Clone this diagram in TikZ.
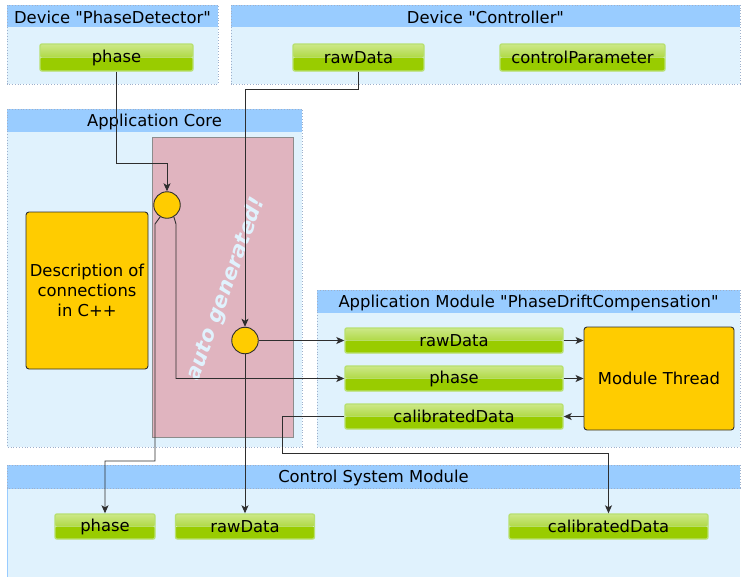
\documentclass[tikz,border=0pt]{standalone}
\usepackage{fontspec}
\setmainfont{DejaVu Sans}[Ligatures=TeXOff]
\usetikzlibrary{arrows.meta,calc}
\definecolor{hdrblue}{HTML}{99CCFF}
\definecolor{bodyblue}{HTML}{E0F2FD}
\definecolor{panelline}{HTML}{9DB0CC}
\definecolor{pinkbg}{HTML}{E0B4BF}
\definecolor{pinkline}{HTML}{8C8C8C}
\definecolor{amber}{HTML}{FFCC00}
\definecolor{greenlo}{HTML}{99CC00}
\definecolor{greenhi}{HTML}{CCE888}
\definecolor{greenmid}{HTML}{B0D946}
\definecolor{greenline}{HTML}{B8E070}
\definecolor{wire}{HTML}{2E2E2E}
\tikzset{
  x=1pt, y=-1pt,
  every node/.style={font=\fontsize{16.4}{20}\selectfont, inner sep=0pt},
  var/.style={minimum height=25pt, rounded corners=2pt, draw=greenline, line width=1.4pt,
    path picture={
      \fill[greenlo] (path picture bounding box.west) rectangle (path picture bounding box.south east);
      \shade[top color=greenhi, bottom color=greenmid]
        (path picture bounding box.north west) rectangle (path picture bounding box.east);
    }},
  proc/.style={fill=amber, draw=wire, line width=0.9pt, rounded corners=3pt, align=center},
  junction/.style={circle, fill=amber, draw=wire, line width=0.9pt, minimum size=26.5pt},
  wirestyle/.style={draw=wire, line width=0.9pt},
  conn/.style={wirestyle, -{Stealth[length=8pt,width=7pt,inset=2pt]}},
  panelbody/.style={fill=bodyblue, draw=panelline, dotted, line width=0.8pt},
}
% panel: #1 left, #2 top, #3 right, #4 header bottom, #5 bottom, #6 title, #7 name
\newcommand{\drawpanel}[7]{%
  \path[panelbody] (#1,#2) rectangle (#3,#5);
  \fill[hdrblue] (#1,#2) rectangle (#3,#4);
  \draw[panelline, dotted, line width=0.8pt] (#1,#2) rectangle (#3,#5);
  \node (#7) at ({(#1+#3)/2},{(#2+#4)/2+1}) {#6};
}
\begin{document}
\begin{tikzpicture}
\useasboundingbox (0,0) rectangle (741,576);

% panels
\drawpanel{7}{5}{218}{27}{84}{Device "PhaseDetector"}{pdtitle}
\drawpanel{231}{5}{740}{27}{84}{Device "Controller"}{cttitle}
\drawpanel{7}{109}{302}{132}{447}{Application Core}{actitle}
\drawpanel{317}{290}{740}{313}{447}{Application Module "PhaseDriftCompensation"}{amtitle}
\drawpanel{7}{465}{740}{580}{488}{}{cspanel}
\fill[bodyblue] (7.5,489) rectangle (739.5,577);
\node (cstitle) at (373.5,477.5) {Control System Module};

% generated glue area
\node[fill=pinkbg, draw=pinkline, line width=0.8pt, minimum width=141pt, minimum height=300pt]
  (gen) at (222.5,287) {};
\node[rotate=70, text=bodyblue, font=\fontsize{21}{24}\selectfont\bfseries\itshape]
  (genlabel) at (226,289) {auto generated!};

% process variables
\node[var, minimum width=153pt, minimum height=27pt] (pdphase) at (116.5,57.5) {phase};
\node[var, minimum width=131pt, minimum height=27pt] (ctraw) at (358.5,57.5) {rawData};
\node[var, minimum width=165pt, minimum height=27pt] (ctctrl) at (582.5,57.5) {controlParameter};

\node[var, minimum width=218pt] (amraw) at (454,340.5) {rawData};
\node[var, minimum width=218pt] (amphase) at (454,378.5) {phase};
\node[var, minimum width=218pt] (amcal) at (454,416.5) {calibratedData};

\node[var, minimum width=100pt] (csphase) at (105,526.5) {phase};
\node[var, minimum width=139pt] (csraw) at (245,526.5) {rawData};
\node[var, minimum width=199pt] (cscal) at (608.5,526.5) {calibratedData};

% processing blocks
\node[proc, minimum width=122pt, minimum height=157pt] (desc) at (87,290.5)
  {Description of\\connections\\in C++};
\node[proc, minimum width=150pt, minimum height=103pt] (thread) at (659,378.5) {Module Thread};

% fan-out junctions
\node[junction] (j1) at (167,205) {};
\node[junction] (j2) at (245,340.5) {};

% wiring
\coordinate (j1l) at (155,224);
\coordinate (j1r) at (176,224);
\draw[conn] (pdphase.south) -- ++(0,92) -| (j1.north);
\draw[conn] (ctraw.south) -- ++(0,18) -| (j2.north);
\draw[conn] (j1.240) -- (j1l) -- (155,461) -| (csphase.north);
\draw[conn] (j1.300) -- (j1r) |- (amphase.west);
\draw[conn] (j2.east) -- (amraw.west);
\draw[conn] (j2.south) -- (csraw.north);
\draw[conn] (amcal.west) -- ++(-62,0) -- ++(0,36.5) -| (cscal.north);
\draw[conn] (amraw.east) -- (thread.west |- amraw.east);
\draw[conn] (amphase.east) -- (thread.west |- amphase.east);
\draw[conn] (thread.west |- amcal.east) -- (amcal.east);
\end{tikzpicture}
\end{document}
